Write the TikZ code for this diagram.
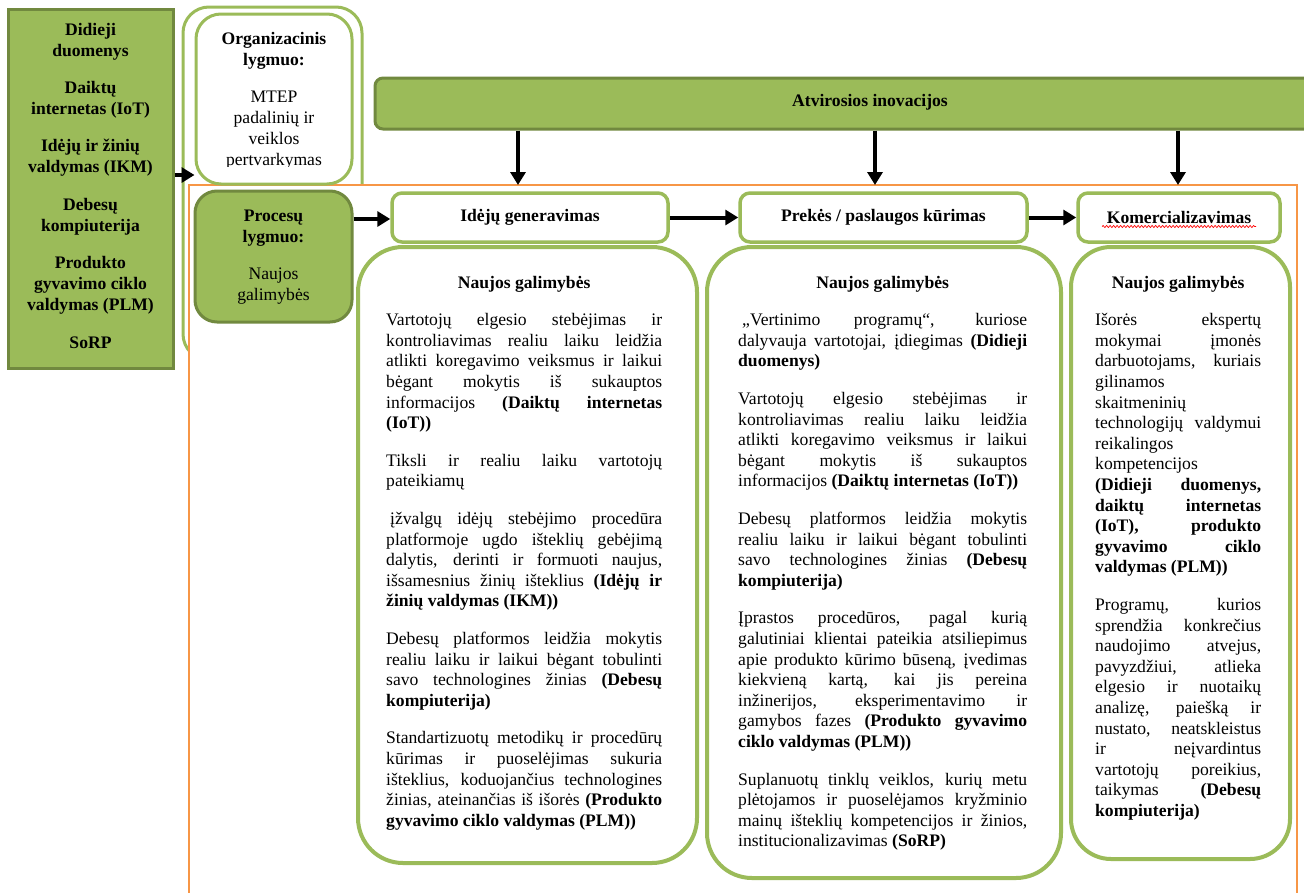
\documentclass[tikz,border=0pt]{standalone}
\usepackage{fontspec}
\setmainfont{Liberation Serif}
\usetikzlibrary{arrows.meta,decorations.pathmorphing}
\definecolor{lgreen}{HTML}{9BBB59}
\definecolor{dgreen}{HTML}{71893F}
\definecolor{orng}{HTML}{F79646}
\newcommand{\brk}{\linebreak}
\newcommand{\coltxt}[2]{\begin{minipage}[t]{#1}\fontsize{17.6}{20.6}\selectfont\setlength{\parskip}{17pt}\setlength{\parindent}{0pt}\tolerance=10000 \hbadness=10000 \hyphenpenalty=10000 \exhyphenpenalty=10000 #2\end{minipage}}
\newcommand{\ctrtxt}[2]{\begin{minipage}[t]{#1}\centering\fontsize{17.6}{21}\selectfont\setlength{\parskip}{16.4pt}\setlength{\parindent}{0pt}#2\end{minipage}}
\begin{document}
\begin{tikzpicture}[x=1pt,y=-1pt,
  fbox/.style={draw=dgreen, fill=lgreen, line width=3pt, inner sep=0pt},
  obox/.style={draw=lgreen, fill=white, line width=3.5pt, inner sep=0pt},
  arr/.style={line width=4pt, -{Triangle[length=13pt,width=15pt]}},
  hfont/.style={font=\fontsize{17.6}{21}\selectfont\bfseries},
  txt/.style={inner sep=0pt, anchor=base west},
  ctxt/.style={inner sep=0pt, anchor=base}]
\useasboundingbox (0,0) rectangle (1304,892);

% organisational outer frame
\node[draw=lgreen, line width=3pt, rounded corners=26pt, minimum width=179pt, minimum height=353pt, inner sep=0pt] (orgout) at (272.5,183.5) {};
% orange frame
\draw[draw=orng, fill=white, line width=2.5pt] (189,905) |- (1297,185) -- (1297,905);

% organisational inner box
\node[obox, line width=3pt, rounded corners=25pt, minimum width=156pt, minimum height=170pt] (orgin) at (274,99) {};
\begin{scope}
\clip (196,14) rectangle (352,166);
\node[ctxt] (orgtxt) at (274,44) {\ctrtxt{150pt}{{\bfseries Organizacinis\\lygmuo:\par}MTEP\\padalinių ir\\veiklos\\pertvarkymas}};
\end{scope}

% left technology box
\node[fbox, minimum width=165pt, minimum height=359pt] (bigL) at (90.5,189) {};
\node[ctxt] (bigtxt) at (90.5,35) {\ctrtxt{160pt}{\bfseries Didieji\\duomenys\par Daiktų\\internetas (IoT)\par Idėjų ir žinių\\valdymas (IKM)\par Debesų\\kompiuterija\par Produkto\\gyvavimo ciklo\\valdymas (PLM)\par SoRP}};

% process level box
\node[fbox, rounded corners=22pt, minimum width=157pt, minimum height=131pt] (proc) at (273.5,256.5) {};
\node[ctxt] (proctxt) at (273.5,221) {\ctrtxt{150pt}{{\bfseries Procesų\\lygmuo:\par}Naujos\\galimybės}};

% open innovation bar
\node[fbox, rounded corners=8pt, minimum width=955pt, minimum height=51pt] (bar) at (852.5,103.5) {};
\node[hfont, inner sep=0pt] (bartxt) at (870,102) {Atvirosios inovacijos};

% columns
\node[obox, line width=4pt, rounded corners=45pt, minimum width=339pt, minimum height=616pt] (col1) at (527.5,555) {};
\node[obox, line width=4pt, rounded corners=45pt, minimum width=354pt, minimum height=631pt] (col2) at (884,562.5) {};
\node[obox, line width=4pt, rounded corners=40pt, minimum width=219pt, minimum height=612pt] (col3) at (1180.5,553) {};

% step boxes
\node[obox, rounded corners=10pt, minimum width=276pt, minimum height=49pt, hfont] (step1) at (530,217.5) {Idėjų generavimas};
\node[obox, rounded corners=10pt, minimum width=287pt, minimum height=49pt, hfont] (step2) at (883.5,217.5) {Prekės / paslaugos kūrimas};
\node[obox, rounded corners=10pt, minimum width=202pt, minimum height=49pt, hfont] (step3) at (1179,217.5) {Komercializavimas};
\draw[red, line width=0.7pt, decorate, decoration={snake, amplitude=1pt, segment length=3.5pt}] ([shift={(-77,9)}]step3.center) -- ([shift={(77,9)}]step3.center);

% arrows
\draw[arr] (bigL.east |- 0,175) -- (orgin.west |- 0,175);
\draw[arr] (proc.east |- 0,219) -- (step1.west |- 0,219);
\draw[arr] (step1.east) -- (step2.west);
\draw[arr] (step2.east) -- (step3.west);
\coordinate (d1) at (518,185);
\coordinate (d2) at (875,185);
\coordinate (d3) at (1178,185);
\draw[arr] (bar.south -| d1) -- (d1);
\draw[arr] (bar.south -| d2) -- (d2);
\draw[arr] (bar.south -| d3) -- (d3);

% column texts
\node[txt] (t1) at (386,288) {\coltxt{276pt}{{\centering\bfseries Naujos galimybės\par}
Vartotojų elgesio stebėjimas ir\brk kontroliavimas realiu laiku leidžia\brk atlikti koregavimo veiksmus ir laikui\brk bėgant mokytis iš sukauptos\brk informacijos \textbf{(Daiktų internetas\brk (IoT))}\par
Tiksli ir realiu laiku vartotojų\brk pateikiamų\par
\hspace*{4pt}įžvalgų idėjų stebėjimo procedūra\brk platformoje ugdo išteklių gebėjimą\brk dalytis, derinti ir formuoti naujus,\brk išsamesnius žinių išteklius \textbf{(Idėjų ir\brk žinių valdymas (IKM))}\par
Debesų platformos leidžia mokytis\brk realiu laiku ir laikui bėgant tobulinti\brk savo technologines žinias \textbf{(Debesų\brk kompiuterija)}\par
Standartizuotų metodikų ir procedūrų\brk kūrimas ir puoselėjimas sukuria\brk išteklius, koduojančius technologines\brk žinias, ateinančias iš išorės \textbf{(Produkto\brk gyvavimo ciklo valdymas (PLM))}}};

\node[txt] (t2) at (738,288) {\coltxt{289pt}{{\centering\bfseries Naujos galimybės\par}
\hspace*{4pt}„Vertinimo programų“, kuriose\brk dalyvauja vartotojai, įdiegimas \textbf{(Didieji\brk duomenys)}\par
Vartotojų elgesio stebėjimas ir\brk kontroliavimas realiu laiku leidžia\brk atlikti koregavimo veiksmus ir laikui\brk bėgant mokytis iš sukauptos\brk informacijos \textbf{(Daiktų internetas (IoT))}\par
Debesų platformos leidžia mokytis\brk realiu laiku ir laikui bėgant tobulinti\brk savo technologines žinias \textbf{(Debesų\brk kompiuterija)}\par
Įprastos procedūros, pagal kurią\brk galutiniai klientai pateikia atsiliepimus\brk apie produkto kūrimo būseną, įvedimas\brk kiekvieną kartą, kai jis pereina\brk inžinerijos, eksperimentavimo ir\brk gamybos fazes \textbf{(Produkto gyvavimo\brk ciklo valdymas (PLM))}\par
Suplanuotų tinklų veiklos, kurių metu\brk plėtojamos ir puoselėjamos kryžminio\brk mainų išteklių kompetencijos ir žinios,\brk institucionalizavimas \textbf{(SoRP)}}};

\node[txt] (t3) at (1095,288) {\coltxt{166pt}{{\centering\bfseries Naujos galimybės\par}
Išorės ekspertų\brk mokymai įmonės\brk darbuotojams, kuriais\brk gilinamos\brk skaitmeninių\brk technologijų valdymui\brk reikalingos\brk kompetencijos\brk \textbf{(Didieji duomenys,\brk daiktų internetas\brk (IoT), produkto\brk gyvavimo ciklo\brk valdymas (PLM))}\par
Programų, kurios\brk sprendžia konkrečius\brk naudojimo atvejus,\brk pavyzdžiui, atlieka\brk elgesio ir nuotaikų\brk analizę, paiešką ir\brk nustato, neatskleistus\brk ir neįvardintus\brk vartotojų poreikius,\brk taikymas \textbf{(Debesų\brk kompiuterija)}}};
\end{tikzpicture}
\end{document}
